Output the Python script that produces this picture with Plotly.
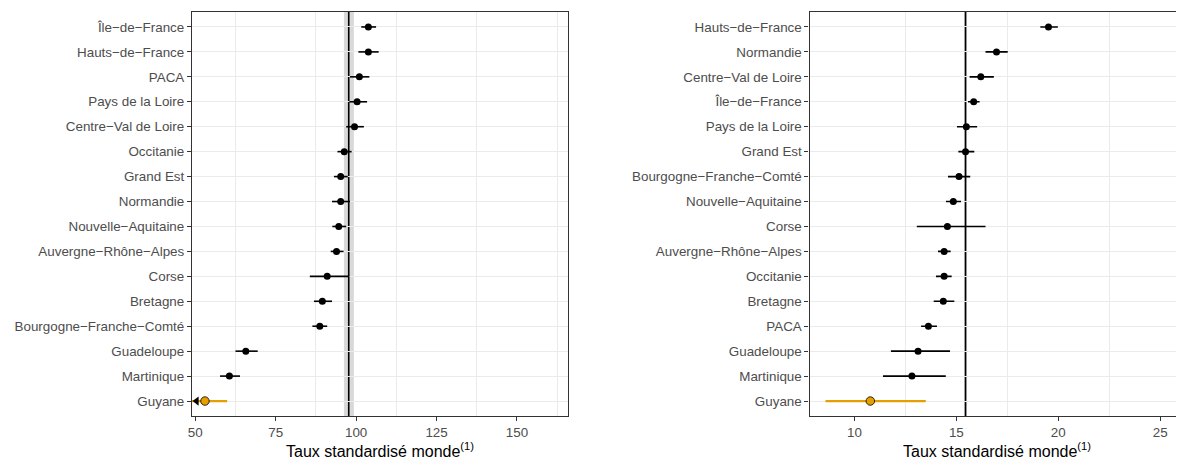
import plotly.graph_objects as go

# ---- data ----
left_regions = ["Île-de-France", "Hauts-de-France", "PACA", "Pays de la Loire",
                "Centre-Val de Loire", "Occitanie", "Grand Est", "Normandie",
                "Nouvelle-Aquitaine", "Auvergne-Rhône-Alpes", "Corse", "Bretagne",
                "Bourgogne-Franche-Comté", "Guadeloupe", "Martinique", "Guyane"]
left_est = [103.8, 103.8, 101.0, 100.3, 99.5, 96.3, 95.2, 95.2, 94.6, 93.9, 91.0, 89.5, 88.7, 65.7, 60.6, 53.0]
left_lo = [101.6, 100.7, 98.1, 97.9, 96.9, 94.2, 93.1, 92.5, 92.6, 92.1, 85.6, 86.9, 86.4, 62.5, 57.7, 47.4]
left_hi = [106.2, 107.0, 104.1, 103.4, 102.4, 98.6, 97.4, 98.1, 96.9, 96.1, 97.9, 92.5, 91.0, 69.4, 63.9, 59.9]
left_ref = 97.7
left_ref_lo, left_ref_hi = 96.2, 99.3
left_ticks = [50, 75, 100, 125, 150]

right_regions = ["Hauts-de-France", "Normandie", "Centre-Val de Loire", "Île-de-France",
                 "Pays de la Loire", "Grand Est", "Bourgogne-Franche-Comté", "Nouvelle-Aquitaine",
                 "Corse", "Auvergne-Rhône-Alpes", "Occitanie", "Bretagne", "PACA",
                 "Guadeloupe", "Martinique", "Guyane"]
right_est = [19.52, 16.97, 16.20, 15.85, 15.49, 15.45, 15.13, 14.85, 14.56, 14.40, 14.40, 14.36, 13.63, 13.12, 12.82, 10.78]
right_lo = [19.12, 16.43, 15.65, 15.57, 15.03, 15.10, 14.59, 14.49, 13.06, 14.10, 14.00, 13.89, 13.27, 11.79, 11.40, 8.58]
right_hi = [19.98, 17.52, 16.84, 16.14, 16.02, 15.88, 15.68, 15.23, 16.43, 14.72, 14.77, 14.90, 14.05, 14.69, 14.48, 13.50]
right_ref = 15.45
right_ref_lo, right_ref_hi = 15.38, 15.52
right_ticks = [10, 15, 20, 25]

highlight = "Guyane"
x_title = "Taux standardisé monde<sup>(1)</sup>"

LEFT_RANGE = [49.0, 165.9]
RIGHT_RANGE = [7.80, 26.17]

FONT = "Liberation Sans, Arial, sans-serif"
ORANGE = "#E69F00"
GRID = "#EBEBEB"

fig = go.Figure()


def add_panel(regions, est, lo, hi, xa, ya, xrange):
    idx_norm = [i for i, r in enumerate(regions) if r != highlight]
    idx_hl = [i for i, r in enumerate(regions) if r == highlight]
    for idx, color, msize, lw in ((idx_norm, "black", 7, 1.6), (idx_hl, ORANGE, 8.5, 2.2)):
        xs = [est[i] for i in idx]
        ys = [regions[i] for i in idx]
        plus = [hi[i] - est[i] for i in idx]
        minus = [est[i] - lo[i] for i in idx]
        fig.add_trace(go.Scatter(
            x=xs, y=ys, mode="markers", xaxis=xa, yaxis=ya,
            marker=dict(color=color, size=msize,
                        line=dict(color="black", width=0.8 if color != "black" else 0)),
            error_x=dict(type="data", symmetric=False, array=plus, arrayminus=minus,
                         color=color, thickness=lw, width=0),
            showlegend=False, cliponaxis=True))
    # truncation arrow for intervals going beyond the axis minimum
    arr_y = [regions[i] for i in range(len(regions)) if lo[i] < xrange[0]]
    if arr_y:
        fig.add_trace(go.Scatter(
            x=[xrange[0] + (xrange[1] - xrange[0]) * 0.012] * len(arr_y), y=arr_y,
            mode="markers", xaxis=xa, yaxis=ya,
            marker=dict(symbol="triangle-left", color="black", size=8),
            showlegend=False, cliponaxis=False))


add_panel(left_regions, left_est, left_lo, left_hi, "x", "y", LEFT_RANGE)
add_panel(right_regions, right_est, right_lo, right_hi, "x2", "y2", RIGHT_RANGE)

# reference bands and lines
fig.add_shape(type="rect", xref="x", yref="y domain", x0=left_ref_lo, x1=left_ref_hi, y0=0, y1=1,
              fillcolor="#D9D9D9", line=dict(width=0), layer="below")
fig.add_shape(type="line", xref="x", yref="y domain", x0=left_ref, x1=left_ref, y0=0, y1=1,
              line=dict(color="black", width=1.6), layer="below")
fig.add_shape(type="rect", xref="x2", yref="y2 domain", x0=right_ref_lo, x1=right_ref_hi, y0=0, y1=1,
              fillcolor="#D9D9D9", line=dict(width=0), layer="below")
fig.add_shape(type="line", xref="x2", yref="y2 domain", x0=right_ref, x1=right_ref, y0=0, y1=1,
              line=dict(color="black", width=1.6), layer="below")

W, H = 1184, 461
OFF = 8  # page body margin offset


def px_x(p):
    return (p - OFF) / W


def px_y(p):
    return (H - (p - OFF)) / H


ydom = [px_y(416), px_y(12)]
left_dom = [px_x(188.7), px_x(566.0)]
right_dom = [px_x(808.3), px_x(1184)]

tickfont = dict(family=FONT, size=13.4, color="#4D4D4D")


def xaxis_cfg(dom, rng, ticks, mirror):
    return dict(domain=dom, range=rng, tickvals=ticks, ticktext=[str(t) for t in ticks],
                showgrid=False, zeroline=False,
                minor=dict(tick0=ticks[0] - (ticks[1] - ticks[0]) / 2, dtick=ticks[1] - ticks[0],
                           showgrid=True, gridcolor=GRID, gridwidth=1, ticks=""),
                showline=True, linecolor="#333333", linewidth=1.3, mirror=mirror,
                ticks="outside", ticklen=4, tickcolor="#333333", tickwidth=1,
                tickfont=tickfont, fixedrange=True)


def yaxis_cfg(regions, anchor, mirror):
    cats = list(reversed(regions))
    return dict(domain=ydom, anchor=anchor, type="category",
                categoryorder="array", categoryarray=cats,
                tickvals=cats, ticktext=[c.replace("-", "−") for c in cats],
                range=[-0.6, len(cats) - 1 + 0.6],
                showgrid=True, gridcolor=GRID, gridwidth=1, zeroline=False,
                showline=True, linecolor="#333333", linewidth=1.3, mirror=mirror,
                ticks="outside", ticklen=4, tickcolor="#333333", tickwidth=1,
                tickfont=tickfont, fixedrange=True)


fig.update_layout(
    width=W, height=H,
    margin=dict(l=0, r=0, t=0, b=0),
    paper_bgcolor="white", plot_bgcolor="white",
    font=dict(family=FONT),
    xaxis=dict(**xaxis_cfg(left_dom, LEFT_RANGE, left_ticks, True), anchor="y"),
    yaxis=yaxis_cfg(left_regions, "x", True),
    xaxis2=dict(**xaxis_cfg(right_dom, RIGHT_RANGE, right_ticks, True), anchor="y2"),
    yaxis2=yaxis_cfg(right_regions, "x2", False),
    annotations=[
        dict(text=x_title, xref="paper", yref="paper",
             x=(left_dom[0] + left_dom[1]) / 2, y=px_y(450),
             xanchor="center", yanchor="middle", showarrow=False,
             font=dict(family=FONT, size=16, color="black")),
        dict(text=x_title, xref="paper", yref="paper",
             x=(right_dom[0] + right_dom[1]) / 2, y=px_y(450),
             xanchor="center", yanchor="middle", showarrow=False,
             font=dict(family=FONT, size=16, color="black")),
    ],
)

fig.write_html("out.html")
